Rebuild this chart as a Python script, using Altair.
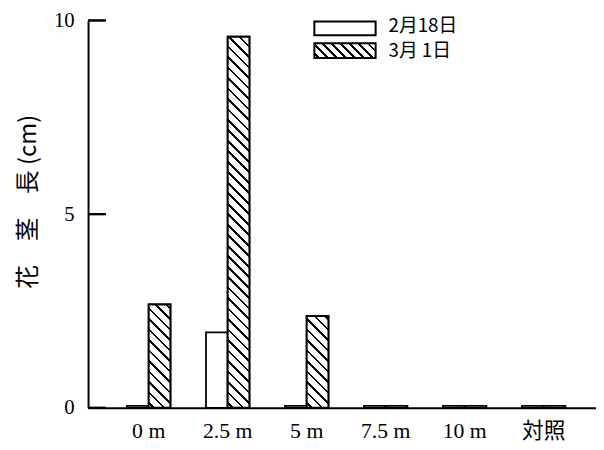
import math
import altair as alt
import pandas as pd

# ---------------- data ----------------
categories = ["0m", "2.5m", "5m", "7.5m", "10m", "対照"]
series = ["2月18日", "3月 1日"]
feb18 = [0.05, 1.95, 0.05, 0.05, 0.05, 0.05]
mar1 = [2.67, 9.58, 2.37, 0.05, 0.05, 0.05]
y_ticks = [0, 5, 10]
y_title = "花　茎　長 (cm)"

# ---------------- layout ----------------
W, H = 514, 392
PI, PO, ALIGN = 0.45, 0.44, 0.56
YMAX = 10
step = W / (len(categories) - PI + 2 * PO)
bar_w = step * (1 - PI) / len(series)
px_per_unit = H / YMAX

SERIF = "Liberation Serif, Noto Sans CJK JP"
CJK = "Noto Sans CJK JP"


def hatch(w, h, period=7.5, lw=2.0):
    """Diagonal (\\\\) hatch as a linear gradient in bbox units, 45 deg in pixels."""
    r = h / w
    s = (1 + r) / (1 + r * r)
    D = (w + h) / math.sqrt(2)
    stops = [{"offset": 0, "color": "white"}]
    pos = period / 2
    while pos < D:
        a = max(0.0, (pos - lw / 2) / D)
        b = min(1.0, (pos + lw / 2) / D)
        stops += [
            {"offset": a, "color": "white"},
            {"offset": a, "color": "black"},
            {"offset": b, "color": "black"},
            {"offset": b, "color": "white"},
        ]
        pos += period
    stops.append({"offset": 1, "color": "white"})
    return {"gradient": "linear", "x1": 0, "y1": 1, "x2": s, "y2": 1 - s * r,
            "stops": stops}


rows = []
for i, c in enumerate(categories):
    rows.append({"category": c, "series": series[0], "value": feb18[i]})
    rows.append({"category": c, "series": series[1], "value": mar1[i]})
df = pd.DataFrame(rows)

y_scale = alt.Scale(domain=[0, YMAX], nice=False)
y_axis = alt.Axis(
    values=y_ticks, ticks=False, grid=False, labelPadding=14,
    labelFont=SERIF, labelFontSize=21, labelColor="black",
    domainColor="black", domainWidth=2,
    title=y_title, titleFont=CJK, titleFontSize=24, titleFontWeight="normal",
    titleColor="black", titleX=-60, titleY=183, titleAngle=270,
    titleBaseline="middle", titleAlign="center",
)

x_main = alt.X(
    "category:N", sort=categories,
    scale=alt.Scale(paddingInner=PI, paddingOuter=PO, align=ALIGN, round=False),
    axis=alt.Axis(
        title=None, labelExpr="replace(datum.label, 'm', ' m')",
        labelFont=SERIF, labelFontSize=22, labelColor="black", labelAngle=0,
        labelPadding=13, ticks=False, domainColor="black", domainWidth=2,
        grid=False,
    ),
)
y_main = alt.Y("value:Q", scale=y_scale, axis=y_axis)
x_off = alt.XOffset("series:N", sort=series)

bars = alt.Chart(df).mark_bar(fill="white", stroke="black", strokeWidth=1.8).encode(
    x=x_main, xOffset=x_off, y=y_main
)

hatch_layers = []
for i, c in enumerate(categories):
    h = mar1[i] * px_per_unit
    if h > 4:
        hatch_layers.append(
            alt.Chart(df)
            .transform_filter((alt.datum.category == c) & (alt.datum.series == series[1]))
            .mark_bar(fill=hatch(bar_w, h), stroke="black", strokeWidth=2)
            .encode(x=x_main, xOffset=x_off, y=y_main)
        )

leg = pd.DataFrame({"series": series})
box1 = alt.Chart(leg).transform_filter(alt.datum.series == series[0]).mark_rect(
    fill="white", stroke="black", strokeWidth=2
).encode(x=alt.value(229), x2=alt.value(291), y=alt.value(1), y2=alt.value(15))
box2 = alt.Chart(leg).transform_filter(alt.datum.series == series[1]).mark_rect(
    fill=hatch(62, 15, period=6.5, lw=2.0), stroke="black", strokeWidth=2
).encode(x=alt.value(229), x2=alt.value(291), y=alt.value(23), y2=alt.value(38))
txt1 = alt.Chart(leg).transform_filter(alt.datum.series == series[0]).mark_text(
    align="left", baseline="middle", font=CJK, fontSize=19, color="black"
).encode(text="series:N", x=alt.value(304), y=alt.value(6))
txt2 = alt.Chart(leg).transform_filter(alt.datum.series == series[1]).mark_text(
    align="left", baseline="middle", font=CJK, fontSize=19, color="black"
).encode(text="series:N", x=alt.value(304), y=alt.value(31))

# inward y-axis ticks (own field, same scale and axis spec), drawn last
tick_df = pd.DataFrame({"tick": y_ticks})
ticks = alt.Chart(tick_df).mark_rule(color="black", strokeWidth=2.2).encode(
    y=alt.Y("tick:Q", scale=y_scale, axis=y_axis), x=alt.value(0), x2=alt.value(18)
)
ticks2 = alt.Chart(tick_df).mark_tick(
    color="black", thickness=2.2, size=18, orient="horizontal"
).encode(y=alt.Y("tick:Q", scale=y_scale, axis=y_axis), x=alt.value(9))

chart = (
    alt.layer(bars, *hatch_layers, box1, box2, txt1, txt2, ticks, ticks2)
    .properties(
        width=W, height=H,
        autosize=alt.AutoSizeParams(type="none"),
        padding={"left": 81, "top": 10, "right": 0, "bottom": 35},
        background="white",
    )
    .configure_view(stroke=None)
)

chart.save("out.html", embed_options={"renderer": "svg", "actions": False})
